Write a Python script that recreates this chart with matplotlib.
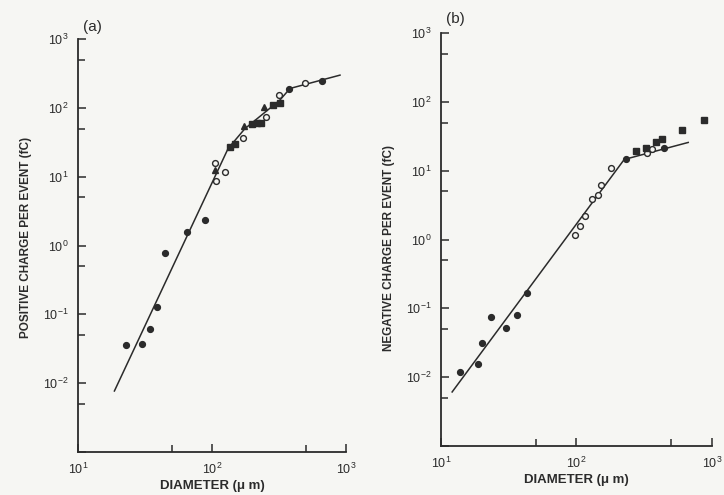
import numpy as np
import matplotlib
matplotlib.use("Agg")
import matplotlib.pyplot as plt
from matplotlib.ticker import LogLocator, FuncFormatter, NullFormatter

plt.rcParams['font.family'] = ['Liberation Sans', 'DejaVu Sans']
plt.rcParams['mathtext.fontset'] = 'custom'
plt.rcParams['mathtext.rm'] = 'Liberation Sans'
plt.rcParams['mathtext.it'] = 'Liberation Sans:italic'
plt.rcParams['mathtext.bf'] = 'Liberation Sans:bold'

# ---- panel (a): positive charge ----
a_fill_d = [22.8, 30.2, 34.3, 38.6, 44.6, 64.7, 88, 376, 659]
a_fill_q = [0.036, 0.037, 0.061, 0.127, 0.78, 1.57, 2.34, 186, 248]
a_open_d = [105, 124, 107, 169, 253, 316, 494]
a_open_q = [15.6, 11.7, 8.6, 37, 74, 153, 229]
a_tri_d = [105, 174, 245]
a_tri_q = [12.5, 54, 104]
a_sq_d = [136, 148, 198, 215, 232, 284, 321]
a_sq_q = [27, 30, 58, 61, 61, 112, 119]
a_fit_d = [18.7, 132, 176, 321, 382, 902]
a_fit_q = [0.0077, 25.8, 50, 130, 192, 300]

# ---- panel (b): negative charge ----
b_fill_d = [13.8, 18.8, 20, 23.4, 30.4, 36.5, 43.4, 232, 440]
b_fill_q = [0.0117, 0.0153, 0.031, 0.076, 0.0515, 0.079, 0.165, 14.8, 21.5]
b_open_d = [98, 107, 116, 131, 145, 151, 180, 330, 362]
b_open_q = [1.16, 1.57, 2.19, 3.95, 4.4, 6.2, 10.8, 18.2, 20.4]
b_sq_d = [275, 323, 388, 430, 605, 871]
b_sq_q = [19.5, 21.1, 26.3, 28.5, 39.8, 54]
b_fit_d = [12.1, 225, 667]
b_fit_q = [0.0061, 14.6, 25.8]

ink = '#2b2b2b'
bg = '#f6f6f3'


def fmt(v, pos):
    e = int(round(np.log10(v)))
    if e < -2:
        return ''
    return r'$10^{%d}$' % e


def style_axis(ax, ylabel, ylab_y):
    ax.set_xscale('log')
    ax.set_yscale('log')
    ax.set_xlim(10, 1000)
    ax.set_ylim(1e-3, 1e3)
    ax.set_facecolor(bg)
    for s in ['top', 'right']:
        ax.spines[s].set_visible(False)
    for s in ['left', 'bottom']:
        ax.spines[s].set_linewidth(1.3)
        ax.spines[s].set_color(ink)
    ax.xaxis.set_major_locator(LogLocator(base=10, numticks=10))
    ax.yaxis.set_major_locator(LogLocator(base=10, numticks=10))
    ax.xaxis.set_minor_locator(LogLocator(base=10, subs=[5.0], numticks=10))
    ax.yaxis.set_minor_locator(LogLocator(base=10, subs=[5.0], numticks=10))
    ax.xaxis.set_minor_formatter(NullFormatter())
    ax.yaxis.set_minor_formatter(NullFormatter())
    ax.yaxis.set_major_formatter(FuncFormatter(fmt))
    ax.tick_params(which='both', direction='in', color=ink, width=1.1,
                   labelsize=9, labelcolor=ink)
    ax.tick_params(which='major', length=6, pad=7)
    ax.tick_params(which='minor', length=5)
    ax.set_xlabel(u'DIAMETER (\u03bc m)', fontsize=9.5, fontweight='bold',
                  color=ink, labelpad=2)
    ax.set_ylabel(ylabel, fontsize=8.5, fontweight='bold', color=ink)
    ax.yaxis.set_label_coords(-0.17, ylab_y)


fig = plt.figure(figsize=(7.24, 4.95), dpi=100, facecolor=bg)
ax1 = fig.add_axes([0.1077, 0.0869, 0.3702, 0.834])
ax2 = fig.add_axes([0.6090, 0.0990, 0.3745, 0.834])

mk = dict(linestyle='none', color=ink)

# panel (a)
ax1.plot(a_fit_d, a_fit_q, color=ink, lw=1.1)
ax1.plot(a_fill_d, a_fill_q, marker='o', ms=4.2, **mk)
ax1.plot(a_open_d, a_open_q, marker='o', ms=4.2, mfc=bg, mew=1.0, **mk)
ax1.plot(a_tri_d, a_tri_q, marker='^', ms=4.5, **mk)
ax1.plot(a_sq_d, a_sq_q, marker='s', ms=4.0, **mk)
style_axis(ax1, 'POSITIVE CHARGE PER EVENT (fC)', 0.52)
ax1.text(0.02, 1.02, '(a)', transform=ax1.transAxes, fontsize=11, color=ink)

# panel (b)
ax2.plot(b_fit_d, b_fit_q, color=ink, lw=1.1)
ax2.plot(b_fill_d, b_fill_q, marker='o', ms=4.2, **mk)
ax2.plot(b_open_d, b_open_q, marker='o', ms=4.2, mfc=bg, mew=1.0, **mk)
ax2.plot(b_sq_d, b_sq_q, marker='s', ms=5.0, **mk)
style_axis(ax2, 'NEGATIVE CHARGE PER EVENT (fC)', 0.48)
ax2.text(0.02, 1.025, '(b)', transform=ax2.transAxes, fontsize=11, color=ink)

fig.savefig('out.png', dpi=100, facecolor=bg)
